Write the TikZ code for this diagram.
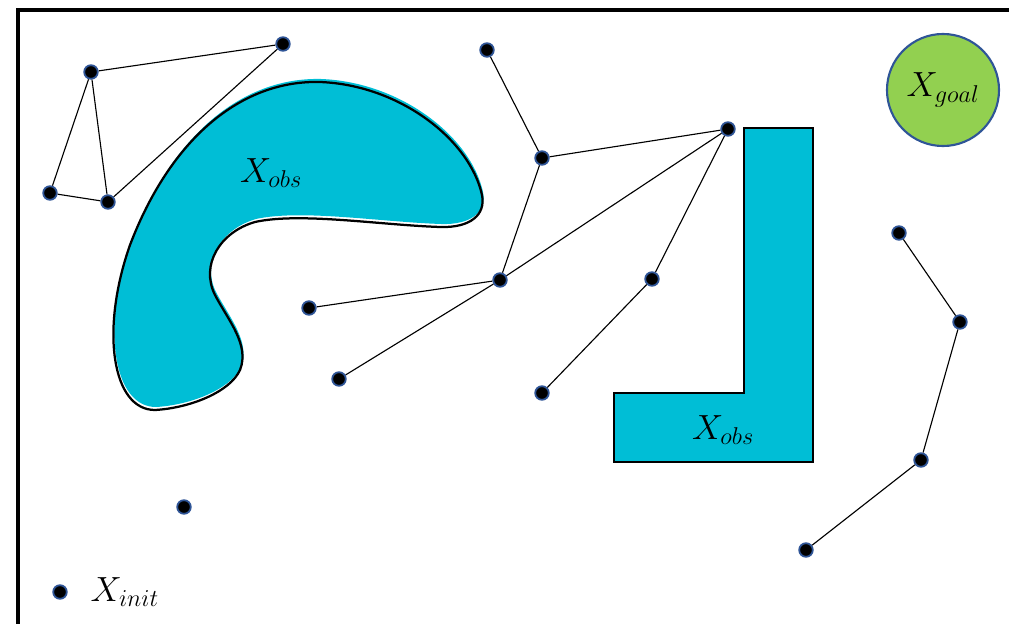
\documentclass[tikz,border=0pt]{standalone}
\usetikzlibrary{positioning}

\definecolor{obscyan}{RGB}{0,190,214}
\definecolor{goalgreen}{RGB}{146,208,80}
\definecolor{ringblue}{RGB}{47,85,151}

\tikzstyle{vertex} = [circle, fill=black, draw=ringblue, line width=1.3pt, minimum size=0.34cm, inner sep=0pt]
\tikzstyle{edge} = [draw, line width=0.8pt]
\tikzstyle{obs} = [fill=obscyan]
\tikzstyle{goal} = [circle, fill=goalgreen, draw=ringblue, line width=1.5pt, minimum size=2.8cm, inner sep=0pt]
\tikzstyle{lbl} = [font=\fontsize{24}{28}\selectfont]

\newcommand{\kidneypath}{(155,410) .. controls (112,410) and (100,330) .. (130,245)
    .. controls (170,140) and (240,80) .. (320,82)
    .. controls (400,85) and (470,140) .. (482,195)
    .. controls (486,215) and (470,228) .. (440,227)
    .. controls (380,225) and (300,212) .. (255,222)
    .. controls (220,232) and (200,265) .. (215,295)
    .. controls (228,320) and (250,345) .. (240,370)
    .. controls (230,392) and (190,408) .. (155,410) -- cycle}

\begin{document}
\begin{tikzpicture}[x=0.025cm, y=-0.025cm]
\useasboundingbox (0,0) rectangle (1009,624);
% frame
\draw[line width=2.2pt] (18,640) -- (18,10) -- (1020,10);

% obstacles
\fill[obs, shift={(1,-3)}] \kidneypath;
\draw[line width=1.6pt] \kidneypath;
\node[lbl] (obs1) at (271,173) {$X_{obs}$};

\draw[obs, draw=black, line width=1.4pt] (744,128) -- (813,128) -- (813,462)
    -- (614,462) -- (614,393) -- (744,393) -- cycle;
\node[lbl] (obs2) at (723,430) {$X_{obs}$};

\node[goal, lbl] (goal) at (943,90) {$X_{goal}$};

% vertices
\node[vertex] (a) at (91,72) {};
\node[vertex] (b) at (283,44) {};
\node[vertex] (c) at (50,193) {};
\node[vertex] (d) at (108,202) {};

\node[vertex] (e) at (487,50) {};
\node[vertex] (f) at (542,158) {};
\node[vertex] (g) at (728,129) {};
\node[vertex] (h) at (500,280) {};
\node[vertex] (i) at (309,308) {};
\node[vertex] (j) at (339,379) {};
\node[vertex] (k) at (652,279) {};
\node[vertex] (l) at (542,393) {};

\node[vertex] (m) at (899,233) {};
\node[vertex] (n) at (960,322) {};
\node[vertex] (o) at (921,460) {};
\node[vertex] (p) at (806,550) {};

\node[vertex] (q) at (184,507) {};
\node[vertex, label={[lbl, label distance=0.45cm]right:$X_{init}$}] (init) at (60,592) {};

% edges
\draw[edge] (a) -- (b);
\draw[edge] (a) -- (c);
\draw[edge] (a) -- (d);
\draw[edge] (c) -- (d);
\draw[edge] (d) -- (b);

\draw[edge] (e) -- (f);
\draw[edge] (f) -- (g);
\draw[edge] (f) -- (h);
\draw[edge] (h) -- (g);
\draw[edge] (h) -- (i);
\draw[edge] (h) -- (j);
\draw[edge] (g) -- (k);
\draw[edge] (k) -- (l);

\draw[edge] (m) -- (n);
\draw[edge] (n) -- (o);
\draw[edge] (o) -- (p);
\end{tikzpicture}
\end{document}
